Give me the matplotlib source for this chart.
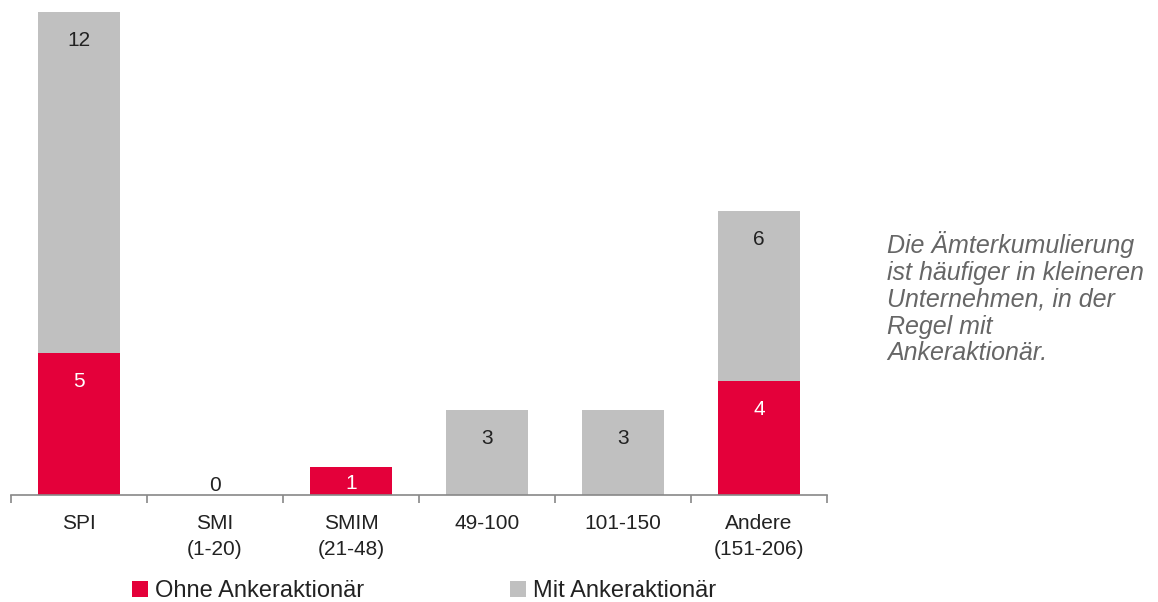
import matplotlib
matplotlib.use("Agg")
import matplotlib.pyplot as plt
import numpy as np

categorias = ["SPI", "SMI\n(1-20)", "SMIM\n(21-48)", "49-100", "101-150", "Andere\n(151-206)"]
ohne_anker = [5, 0, 1, 0, 0, 4]
mit_anker = [12, 0, 0, 3, 3, 6]
series_names = ["Ohne Ankeraktionär", "Mit Ankeraktionär"]
nota = "Die Ämterkumulierung\nist häufiger in kleineren\nUnternehmen, in der\nRegel mit\nAnkeraktionär."

ROT = "#e4003a"
GRAU = "#c0c0c0"

plt.rcParams["font.family"] = ["Liberation Sans", "DejaVu Sans"]

fig = plt.figure(figsize=(11.58, 6.02), dpi=100)
ax = fig.add_axes([11 / 1158, 107 / 602, 816 / 1158, 483 / 602])

x = np.arange(len(categorias))
b1 = ax.bar(x, ohne_anker, width=0.6, color=ROT, label=series_names[0])
b2 = ax.bar(x, mit_anker, width=0.6, bottom=ohne_anker, color=GRAU, label=series_names[1])

# Beschriftungen in den Balken
for i in range(len(categorias)):
    o = ohne_anker[i]
    m = mit_anker[i]
    if o == 0 and m == 0:
        ax.text(x[i], 0.35, "0", ha="center", va="center", fontsize=15, color="#222222")
        continue
    if o > 0:
        ax.text(x[i], max(o - 1, 0.4), str(o), ha="center", va="center", fontsize=15, color="white")
    if m > 0:
        ax.text(x[i], o + max(m - 1, 0.4), str(m), ha="center", va="center", fontsize=15, color="#222222")

ax.set_xlim(-0.5, len(categorias) - 0.5)
ax.set_ylim(0, 17)
ax.set_yticks([])
for s in ["top", "right", "left"]:
    ax.spines[s].set_visible(False)
ax.spines["bottom"].set_color("#888888")
ax.spines["bottom"].set_linewidth(1.2)

ax.set_xticks(np.arange(-0.5, len(categorias), 1.0), minor=False)
ax.set_xticklabels([])
ax.tick_params(axis="x", which="major", length=6, color="#888888", width=1.2)
ax.set_xticks(x, minor=True)
ax.set_xticklabels(categorias, minor=True, fontsize=15, color="#222222", linespacing=1.42)
ax.tick_params(axis="x", which="minor", length=0, pad=14)

fig.legend(handles=[b1, b2], loc="center left", bbox_to_anchor=(111 / 1158, 1 - 591 / 602),
           ncol=2, frameon=False, fontsize=17, handlelength=0.65, handleheight=0.65,
           handletextpad=0.3, columnspacing=6.2, labelcolor="#222222")

fig.text(887 / 1158, 1 - 231 / 602, nota, ha="left", va="top", fontsize=18,
         style="italic", color="#666666", linespacing=1.15)

fig.savefig("out.png", dpi=100)
